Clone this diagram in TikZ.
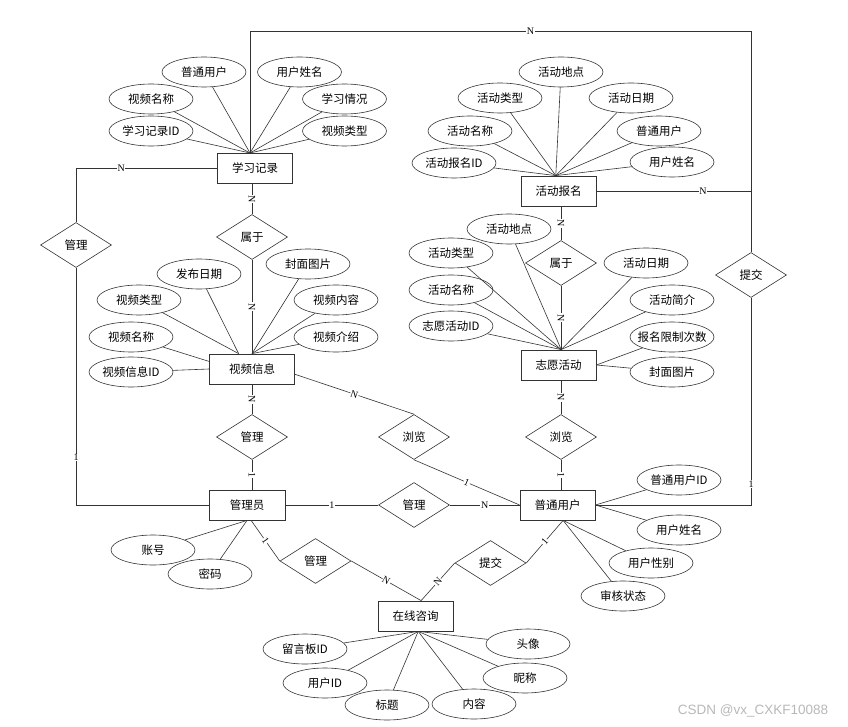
\documentclass[tikz,border=0pt]{standalone}
\usepackage{fontspec}
\setmainfont{Noto Sans CJK SC}
\newfontfamily\cardfont{Liberation Serif}
\newfontfamily\markfont{Liberation Sans}
\usetikzlibrary{shapes.geometric}
\tikzset{
  ent/.style={draw=black!80,line width=.8pt,fill=white,minimum width=75pt,minimum height=30pt,inner sep=0pt,font=\fontsize{11.5}{12}\selectfont},
  attr/.style={ellipse,draw=black!80,line width=.6pt,fill=white,minimum width=84pt,minimum height=30pt,inner xsep=-5pt,inner ysep=0pt,font=\fontsize{11.5}{12}\selectfont},
  rel/.style={diamond,draw=black!80,line width=.6pt,fill=white,minimum width=71pt,minimum height=45pt,inner sep=0pt,font=\fontsize{11.5}{12}\selectfont},
  conn/.style={draw=black!80,line width=.6pt},
  card/.style={fill=white,inner sep=.6pt,font=\cardfont\fontsize{10}{10}\selectfont},
}
\begin{document}
\begin{tikzpicture}[x=1pt,y=-1pt]
\useasboundingbox (0,0) rectangle (848,727);
% entities
      \node [ent] at (255,168) (study rec) {学习记录};
      \node [ent] at (558.5,191) (act signup) {活动报名};
      \node [ent,minimum width=85pt] at (252,369) (video info) {视频信息};
      \node [ent] at (558.5,365) (vol act) {志愿活动};
      \node [ent,minimum width=76pt] at (247,505) (admin) {管理员};
      \node [ent] at (557.5,505) (user) {普通用户};
      \node [ent] at (415.5,616) (consult) {在线咨询};
% relations
   \node [rel] at (76,245) (manage left) {管理};
   \node [rel] at (252,237) (belong sr) {属于};
   \node [rel] at (252,437) (manage vi) {管理};
   \node [rel] at (414,437) (browse vi) {浏览};
   \node [rel] at (561,263) (belong va) {属于};
   \node [rel] at (561,437) (browse va) {浏览};
   \node [rel] at (751,275) (submit sa) {提交};
   \node [rel] at (414,505) (manage au) {管理};
   \node [rel] at (315.5,561) (manage ac) {管理};
   \node [rel] at (490.5,563) (submit uc) {提交};
%
\coordinate (sr top) at (250,153);
\coordinate (top left) at (250,31);
\coordinate (top right) at (751,31);
%
% study record
    \node [attr] at (204,72) (sr user) {普通用户};
    \node [attr] at (299.5,72) (sr uname) {用户姓名};
    \node [attr] at (151,99) (sr vname) {视频名称};
    \node [attr] at (344.5,99) (sr state) {学习情况};
    \node [attr] at (151,131) (sr id) {学习记录ID};
    \node [attr] at (344.5,131) (sr vtype) {视频类型};
\path[conn] (sr user) edge (sr top);
\path[conn] (sr uname) edge (sr top);
\path[conn] (sr vname) edge (sr top);
\path[conn] (sr state) edge (sr top);
\path[conn] (sr id) edge (sr top);
\path[conn] (sr vtype) edge (sr top);
%
% activity signup
    \node [attr] at (561,72) (as place) {活动地点};
    \node [attr] at (500,98) (as type) {活动类型};
    \node [attr] at (631,98) (as date) {活动日期};
    \node [attr] at (470,131) (as name) {活动名称};
    \node [attr] at (659,131) (as user) {普通用户};
    \node [attr] at (454,163) (as id) {活动报名ID};
    \node [attr] at (672,162) (as uname) {用户姓名};
\path[conn] (as place) edge (act signup.100);
\path[conn] (as type) edge (act signup.100);
\path[conn] (as date) edge (act signup.100);
\path[conn] (as name) edge (act signup.100);
\path[conn] (as user) edge (act signup.100);
\path[conn] (as id) edge (act signup.100);
\path[conn] (as uname) edge (act signup.100);
%
% video info
    \node [attr] at (199,274) (vi date) {发布日期};
    \node [attr] at (308,264) (vi cover) {封面图片};
    \node [attr] at (139,300) (vi type) {视频类型};
    \node [attr] at (336,300) (vi content) {视频内容};
    \node [attr] at (131,337) (vi name) {视频名称};
    \node [attr] at (336,337) (vi intro) {视频介绍};
    \node [attr] at (131,372) (vi id) {视频信息ID};
\path[conn] (vi date) edge (video info.131);
\path[conn] (vi type) edge (video info.131);
\path[conn] (vi cover) edge (video info.north);
\path[conn] (vi content) edge (video info.north);
\path[conn] (vi intro) edge (video info.north);
\path[conn] (vi name) edge (video info.170);
\path[conn] (vi id) edge (video info.west);
%
% volunteer activity
    \node [attr] at (509,229) (va place) {活动地点};
    \node [attr] at (451,253) (va type) {活动类型};
    \node [attr] at (646,263) (va date) {活动日期};
    \node [attr] at (451,290) (va name) {活动名称};
    \node [attr] at (672,300) (va intro) {活动简介};
    \node [attr] at (451,326) (va id) {志愿活动ID};
    \node [attr] at (672,337) (va limit) {报名限制次数};
    \node [attr] at (672,372) (va cover) {封面图片};
\path[conn] (va place) edge (vol act.80);
\path[conn] (va type) edge (vol act.80);
\path[conn] (va date) edge (vol act.80);
\path[conn] (va name) edge (vol act.80);
\path[conn] (va intro) edge (vol act.80);
\path[conn] (va id) edge (vol act.80);
\path[conn] (va limit) edge (vol act.east);
\path[conn] (va cover) edge (vol act.east);
%
% admin
    \node [attr] at (153,550) (ad acc) {账号};
    \node [attr] at (210,574) (ad pwd) {密码};
\path[conn] (ad acc) edge (admin.south);
\path[conn] (ad pwd) edge (admin.south);
%
% user
    \node [attr] at (679,480) (us id) {普通用户ID};
    \node [attr] at (679,530) (us name) {用户姓名};
    \node [attr] at (651,563) (us sex) {用户性别};
    \node [attr] at (623,596) (us check) {审核状态};
\path[conn] (us id) edge (user.east);
\path[conn] (us name) edge (user.east);
\path[conn] (us sex) edge (user.-70);
\path[conn] (us check) edge (user.-70);
%
% consult
    \node [attr] at (305,649) (co board) {留言板ID};
    \node [attr] at (325,683) (co uid) {用户ID};
    \node [attr] at (387,705) (co title) {标题};
    \node [attr] at (528,644) (co avatar) {头像};
    \node [attr] at (525,678) (co nick) {昵称};
    \node [attr] at (474,704) (co text) {内容};
\path[conn] (co board) edge (consult.-80);
\path[conn] (co uid) edge (consult.-80);
\path[conn] (co title) edge (consult.-80);
\path[conn] (co avatar) edge (consult.-80);
\path[conn] (co nick) edge (consult.-80);
\path[conn] (co text) edge (consult.-80);
%
% relationships
\draw[conn] (sr top) -- (top left) -- node[card,pos=.56] {N} (top right) -- (submit sa.north);
\draw[conn] (act signup.east) -- node[card,pos=.69] {N} (act signup.east -| submit sa.north);
\draw[conn] (submit sa.south) |- node[card,pos=.45] {1} (user.east);
\draw[conn] (study rec.west) -| node[card,pos=.34] {N} (manage left.north);
\draw[conn] (manage left.south) |- node[card,pos=.4] {1} (admin.west);
\path[conn] (belong sr.north |- study rec.south) edge node[card,sloped] {N} (belong sr.north);
\path[conn] (belong sr.south) edge node[card,sloped] {N} (belong sr.south |- video info.north);
\path[conn] (manage vi.north |- video info.south) edge node[card,sloped] {N} (manage vi.north);
\path[conn] (manage vi.south) edge node[card,sloped] {1} (manage vi.south |- admin.north);
\path[conn] (video info.-7) edge node[card,sloped] {N} (browse vi.north);
\path[conn] (browse vi.south) edge node[card,sloped] {1} (user.west);
\path[conn] (admin) edge node[card] {1} (manage au);
\path[conn] (manage au) edge node[card] {N} (user);
\path[conn] (admin.-75) edge node[card,sloped] {1} (manage ac.west);
\path[conn] (manage ac.east) edge node[card,sloped] {N} (consult.70);
\path[conn] (user.-70) edge node[card,sloped] {1} (submit uc.east);
\path[conn] (submit uc.west) edge node[card,sloped] {N} (consult.70);
\path[conn] (belong va.north |- act signup.south) edge node[card,sloped] {N} (belong va.north);
\path[conn] (belong va.south) edge node[card,sloped] {N} (belong va.south |- vol act.north);
\path[conn] (browse va.north |- vol act.south) edge node[card,sloped] {N} (browse va.north);
\path[conn] (browse va.south) edge node[card,sloped] {1} (browse va.south |- user.north);
%
\node [text=black!28,font=\markfont\fontsize{13.5}{13.5}\selectfont] at (753,711) (mark) {CSDN @vx\_CXKF10088};
\end{tikzpicture}
\end{document}
